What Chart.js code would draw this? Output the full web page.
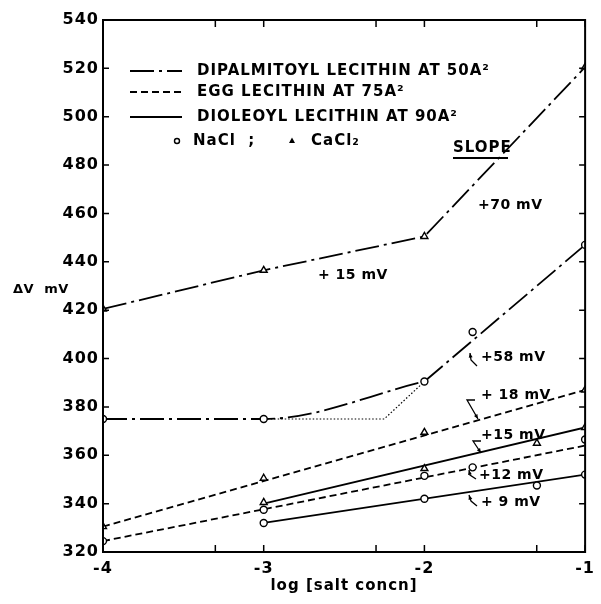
<!DOCTYPE html>
<html>
<head>
<meta charset="utf-8">
<script src="https://cdn.jsdelivr.net/npm/chart.js@4"></script>
<style>
  html, body { margin: 0; padding: 0; background: #fff; }
  #wrap { width: 601px; height: 604px; }
</style>
</head>
<body>
<div id="wrap"><canvas id="chart" width="601" height="604"></canvas></div>
<script>
// log of salt concentration, minor ticks sit at log(5e-n)
const xMinorTicks = [-3.301, -2.301, -1.301];

// dipalmitoyl lecithin at 50 A2
const dipCaX = [-4, -3, -2, -1];
const dipCaV = [420.5, 436.5, 450.5, 520.5];
const dipNaX = [-4, -3, -2, -1.7, -1];
const dipNaV = [375, 375, 390.5, 411, 447];
// dotted alternative path for the NaCl curve
const dipNaDotX = [-3, -2.25, -2];
const dipNaDotV = [375, 375, 390.5];

// egg lecithin at 75 A2
const eggCaX = [-4, -3, -2, -1];
const eggCaV = [330.5, 350.5, 369.5, 387];
const eggNaX = [-4, -3, -2, -1.7, -1];
const eggNaV = [324.5, 337.5, 351.5, 355, 366.5];
const eggCaFitX = [-4, -1];
const eggCaFitV = [330.5, 387];
const eggNaFitX = [-4, -1];
const eggNaFitV = [324.5, 364];

// dioleoyl lecithin at 90 A2
const dioCaX = [-3, -2, -1.3, -1];
const dioCaV = [340.5, 354.5, 365, 371.5];
const dioNaX = [-3, -2, -1.3, -1];
const dioNaV = [332, 342, 347.5, 352];
const dioCaFitX = [-3, -1];
const dioCaFitV = [340, 371.5];
const dioNaFitX = [-3, -1];
const dioNaFitV = [332, 352];

const slopeLabels = ["+70 mV", "+ 15 mV", "+58 mV", "+ 18 mV", "+15 mV", "+12 mV", "+ 9 mV"];
const legendNames = [
  "DIPALMITOYL LECITHIN AT 50A\u00b2",
  "EGG LECITHIN AT 75A\u00b2",
  "DIOLEOYL LECITHIN AT 90A\u00b2",
];

const FONT = '"DejaVu Sans", sans-serif';
const DASHDOT = [24, 5, 3, 5];
const DASHED = [7, 4];

const pts = (xs, ys) => xs.map((x, i) => ({ x, y: ys[i] }));

const marker = (xs, ys, style) => ({
  data: pts(xs, ys),
  showLine: false,
  pointStyle: style,
  pointRadius: style === "triangle" ? 4 : 3.5,
  pointBackgroundColor: "#fff",
  pointBorderColor: "#000",
  pointBorderWidth: 1.4,
});

const line = (data, dash, extra) => Object.assign({
  data,
  showLine: true,
  pointRadius: 0,
  borderColor: "#000",
  borderWidth: 1.8,
  borderDash: dash,
  tension: 0,
}, extra || {});

const datasets = [
  // markers first so they sit on top
  marker(dipCaX, dipCaV, "triangle"),
  marker(dipNaX, dipNaV, "circle"),
  marker(eggCaX, eggCaV, "triangle"),
  marker(eggNaX, eggNaV, "circle"),
  marker(dioCaX, dioCaV, "triangle"),
  marker(dioNaX, dioNaV, "circle"),
  // fitted lines
  line(pts(dipCaX, dipCaV), DASHDOT),
  line(pts(dipNaX.slice(0, 3), dipNaV.slice(0, 3)), DASHDOT, { cubicInterpolationMode: "monotone" }),
  line([{ x: dipNaX[2], y: dipNaV[2] }, { x: dipNaX[4], y: dipNaV[4] }], DASHDOT),
  line(pts(dipNaDotX, dipNaDotV), [1.5, 2], { borderWidth: 1.2 }),
  line(pts(eggCaFitX, eggCaFitV), DASHED),
  line(pts(eggNaFitX, eggNaFitV), DASHED),
  line(pts(dioCaFitX, dioCaFitV), []),
  line(pts(dioNaFitX, dioNaFitV), []),
];

// wide lettering like the original drawing
const spacing = {
  id: "spacing",
  beforeDraw(chart) { chart.ctx.letterSpacing = "1px"; },
};

// frame with inward ticks, legend, slope notes
const decorations = {
  id: "decorations",
  afterDraw(chart) {
    const { ctx, chartArea: a, scales } = chart;
    ctx.save();
    ctx.strokeStyle = "#000";
    ctx.fillStyle = "#000";
    ctx.setLineDash([]);
    ctx.lineWidth = 2;
    ctx.strokeRect(a.left, a.top, a.right - a.left, a.bottom - a.top);

    ctx.lineWidth = 1.5;
    ctx.beginPath();
    scales.y.ticks.forEach((t) => {
      const y = scales.y.getPixelForValue(t.value);
      ctx.moveTo(a.left, y); ctx.lineTo(a.left + 6, y);
      ctx.moveTo(a.right, y); ctx.lineTo(a.right - 6, y);
    });
    scales.x.ticks.map((t) => t.value).concat(xMinorTicks).forEach((v) => {
      const x = scales.x.getPixelForValue(v);
      ctx.moveTo(x, a.bottom); ctx.lineTo(x, a.bottom - 7);
      ctx.moveTo(x, a.top); ctx.lineTo(x, a.top + 7);
    });
    ctx.stroke();

    // y axis title, written horizontally
    ctx.letterSpacing = "0.5px";
    ctx.font = "bold 13px " + FONT;
    ctx.textBaseline = "middle";
    ctx.textAlign = "left";
    ctx.fillText("\u0394V  mV", 13, 290);

    // legend
    ctx.font = "bold 15px " + FONT;
    ctx.letterSpacing = "1px";
    const rows = [71, 92, 117];
    const dashes = [DASHDOT, DASHED, []];
    rows.forEach((y, i) => {
      ctx.setLineDash(dashes[i]);
      ctx.lineWidth = 1.8;
      ctx.beginPath();
      ctx.moveTo(130, y); ctx.lineTo(182, y);
      ctx.stroke();
      ctx.setLineDash([]);
      ctx.fillText(legendNames[i], 197, y);
    });
    ctx.lineWidth = 1.4;
    ctx.beginPath();
    ctx.arc(177, 141, 2.5, 0, Math.PI * 2);
    ctx.stroke();
    ctx.fillText("NaCl  ;", 193, 141);
    ctx.beginPath();
    ctx.moveTo(292, 137.5); ctx.lineTo(295, 143); ctx.lineTo(289, 143); ctx.closePath();
    ctx.fill();
    ctx.fillText("CaCl\u2082", 311, 141);

    // slope header
    ctx.fillText("SLOPE", 453, 148);
    ctx.lineWidth = 1.8;
    ctx.beginPath();
    ctx.moveTo(453, 158); ctx.lineTo(508, 158);
    ctx.stroke();

    // slope notes
    ctx.font = "bold 14px " + FONT;
    ctx.letterSpacing = "0.5px";
    const notePos = [[478, 205], [318, 275], [481, 357], [481, 395], [481, 435], [479, 475], [481, 502]];
    slopeLabels.forEach((s, i) => ctx.fillText(s, notePos[i][0], notePos[i][1]));

    // small leader arrows from notes to their lines
    const leaders = [
      [[477, 366], [471, 360], [470, 353]],
      [[475, 400], [467, 400], [478, 419]],
      [[481, 441], [473, 441], [481, 453]],
      [[476, 479], [470, 475], [469, 470]],
      [[477, 506], [471, 501], [469, 495]],
    ];
    ctx.lineWidth = 1.3;
    leaders.forEach((p) => {
      ctx.beginPath();
      ctx.moveTo(p[0][0], p[0][1]);
      p.slice(1).forEach((q) => ctx.lineTo(q[0], q[1]));
      ctx.stroke();
      const [x1, y1] = p[p.length - 2];
      const [x2, y2] = p[p.length - 1];
      const ang = Math.atan2(y2 - y1, x2 - x1);
      ctx.beginPath();
      ctx.moveTo(x2, y2);
      ctx.lineTo(x2 - 5 * Math.cos(ang - 0.4), y2 - 5 * Math.sin(ang - 0.4));
      ctx.lineTo(x2 - 5 * Math.cos(ang + 0.4), y2 - 5 * Math.sin(ang + 0.4));
      ctx.closePath();
      ctx.fill();
    });
    ctx.restore();
  },
};

new Chart(document.getElementById("chart"), {
  type: "scatter",
  data: { datasets },
  options: {
    responsive: false,
    animation: false,
    layout: { padding: { top: 20, right: 3, left: 0, bottom: 0 } },
    plugins: { legend: { display: false }, tooltip: { enabled: false } },
    scales: {
      x: {
        type: "linear",
        min: -4,
        max: -1,
        ticks: { stepSize: 1, color: "#000", padding: 7, font: { family: FONT, size: 16, weight: "bold" } },
        grid: { display: false, drawTicks: false },
        border: { display: false },
        title: {
          display: true,
          text: "log [salt concn]",
          color: "#000",
          font: { family: FONT, size: 15, weight: "bold" },
          padding: { top: 0, bottom: 9 },
        },
        afterFit(scale) { scale.height = 52; },
      },
      y: {
        type: "linear",
        min: 320,
        max: 540,
        ticks: { stepSize: 20, color: "#000", padding: 4, font: { family: FONT, size: 16, weight: "bold" } },
        grid: { display: false, drawTicks: false },
        border: { display: false },
        afterFit(scale) { scale.width = 103; },
      },
    },
  },
  plugins: [spacing, decorations],
});
</script>
</body>
</html>
